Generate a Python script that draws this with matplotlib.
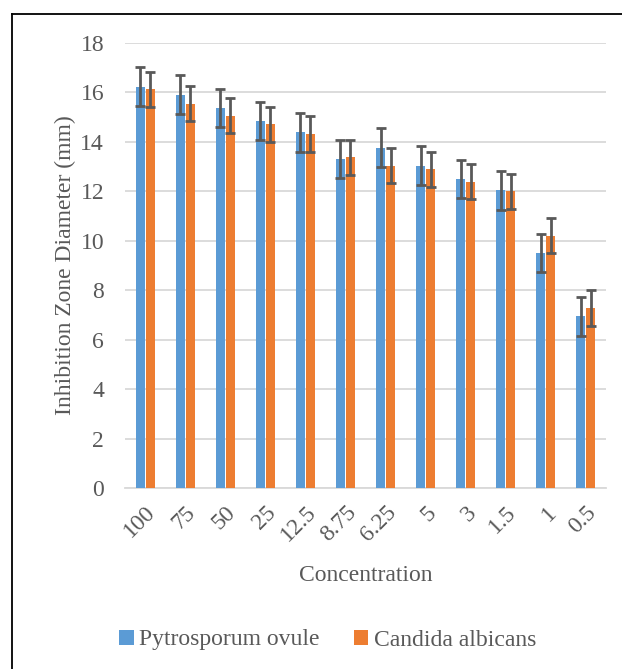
import matplotlib
matplotlib.use("Agg")
import matplotlib.pyplot as plt
from matplotlib.lines import Line2D
import numpy as np

categories = ["100", "75", "50", "25", "12.5", "8.75", "6.25", "5", "3", "1.5", "1", "0.5"]
pytrosporum = [16.23, 15.91, 15.37, 14.85, 14.39, 13.31, 13.77, 13.04, 12.50, 12.04, 9.51, 6.94]
candida = [16.13, 15.55, 15.05, 14.72, 14.32, 13.38, 13.04, 12.90, 12.38, 12.01, 10.21, 7.28]
pyt_err = [0.78] * 12
can_err = [0.71] * 12
yticks = [0, 2, 4, 6, 8, 10, 12, 14, 16, 18]

plt.rcParams['font.family'] = ['Liberation Serif', 'DejaVu Serif']
txt = '#595959'
fs = 17

fig = plt.figure(figsize=(6.22, 6.69), dpi=100)
W, H = 622, 669
ax = fig.add_axes([125 / W, 1 - 488 / H, (606 - 125) / W, (488 - 43) / H])

x = np.arange(len(categories))
bw = 0.225
gap = 0.025
ek = dict(ecolor='#595959', elinewidth=2, capsize=3.8, capthick=2)
ax.bar(x - bw / 2 - gap / 2, pytrosporum, bw, color='#5B9BD5', yerr=pyt_err,
       error_kw=ek, label='Pytrosporum ovule', zorder=3)
ax.bar(x + bw / 2 + gap / 2, candida, bw, color='#ED7D31', yerr=can_err,
       error_kw=ek, label='Candida albicans', zorder=3)

ax.set_xlim(-0.5, len(categories) - 0.5)
ax.set_ylim(0, 18)
ax.set_yticks(yticks)
ax.yaxis.grid(True, color='#D9D9D9', linewidth=1.3, zorder=0)
ax.set_axisbelow(True)
for s in ['top', 'right', 'left']:
    ax.spines[s].set_visible(False)
ax.spines['bottom'].set_color('#D9D9D9')
ax.spines['bottom'].set_linewidth(1.3)
ax.tick_params(axis='both', length=0, colors=txt, labelsize=fs)
ax.tick_params(axis='y', pad=15)
ax.set_xticks(x)
ax.set_xticklabels(categories, rotation=45, ha='right', va='top', rotation_mode='anchor')
ax.tick_params(axis='x', pad=10)
ax.set_xlabel('Concentration', color=txt, fontsize=fs, labelpad=14)
ax.set_ylabel('Inhibition Zone Diameter (mm)', color=txt, fontsize=fs, labelpad=3)

fig.legend(loc='center', bbox_to_anchor=(328 / W, 1 - 640 / H), ncol=2, frameon=False,
           fontsize=fs, labelcolor=txt, handlelength=0.6, handleheight=0.6,
           handletextpad=0.25, columnspacing=1.45)

# chart-area border (only top and left edges visible in the crop)
bx, by = 11.5 / W, 1 - 13.5 / H
fig.lines.append(Line2D([bx, 1.0], [by, by], transform=fig.transFigure,
                        color='black', linewidth=1.3))
fig.lines.append(Line2D([bx, bx], [by, 0.0], transform=fig.transFigure,
                        color='black', linewidth=1.3))
fig.savefig('out.png', dpi=100)
